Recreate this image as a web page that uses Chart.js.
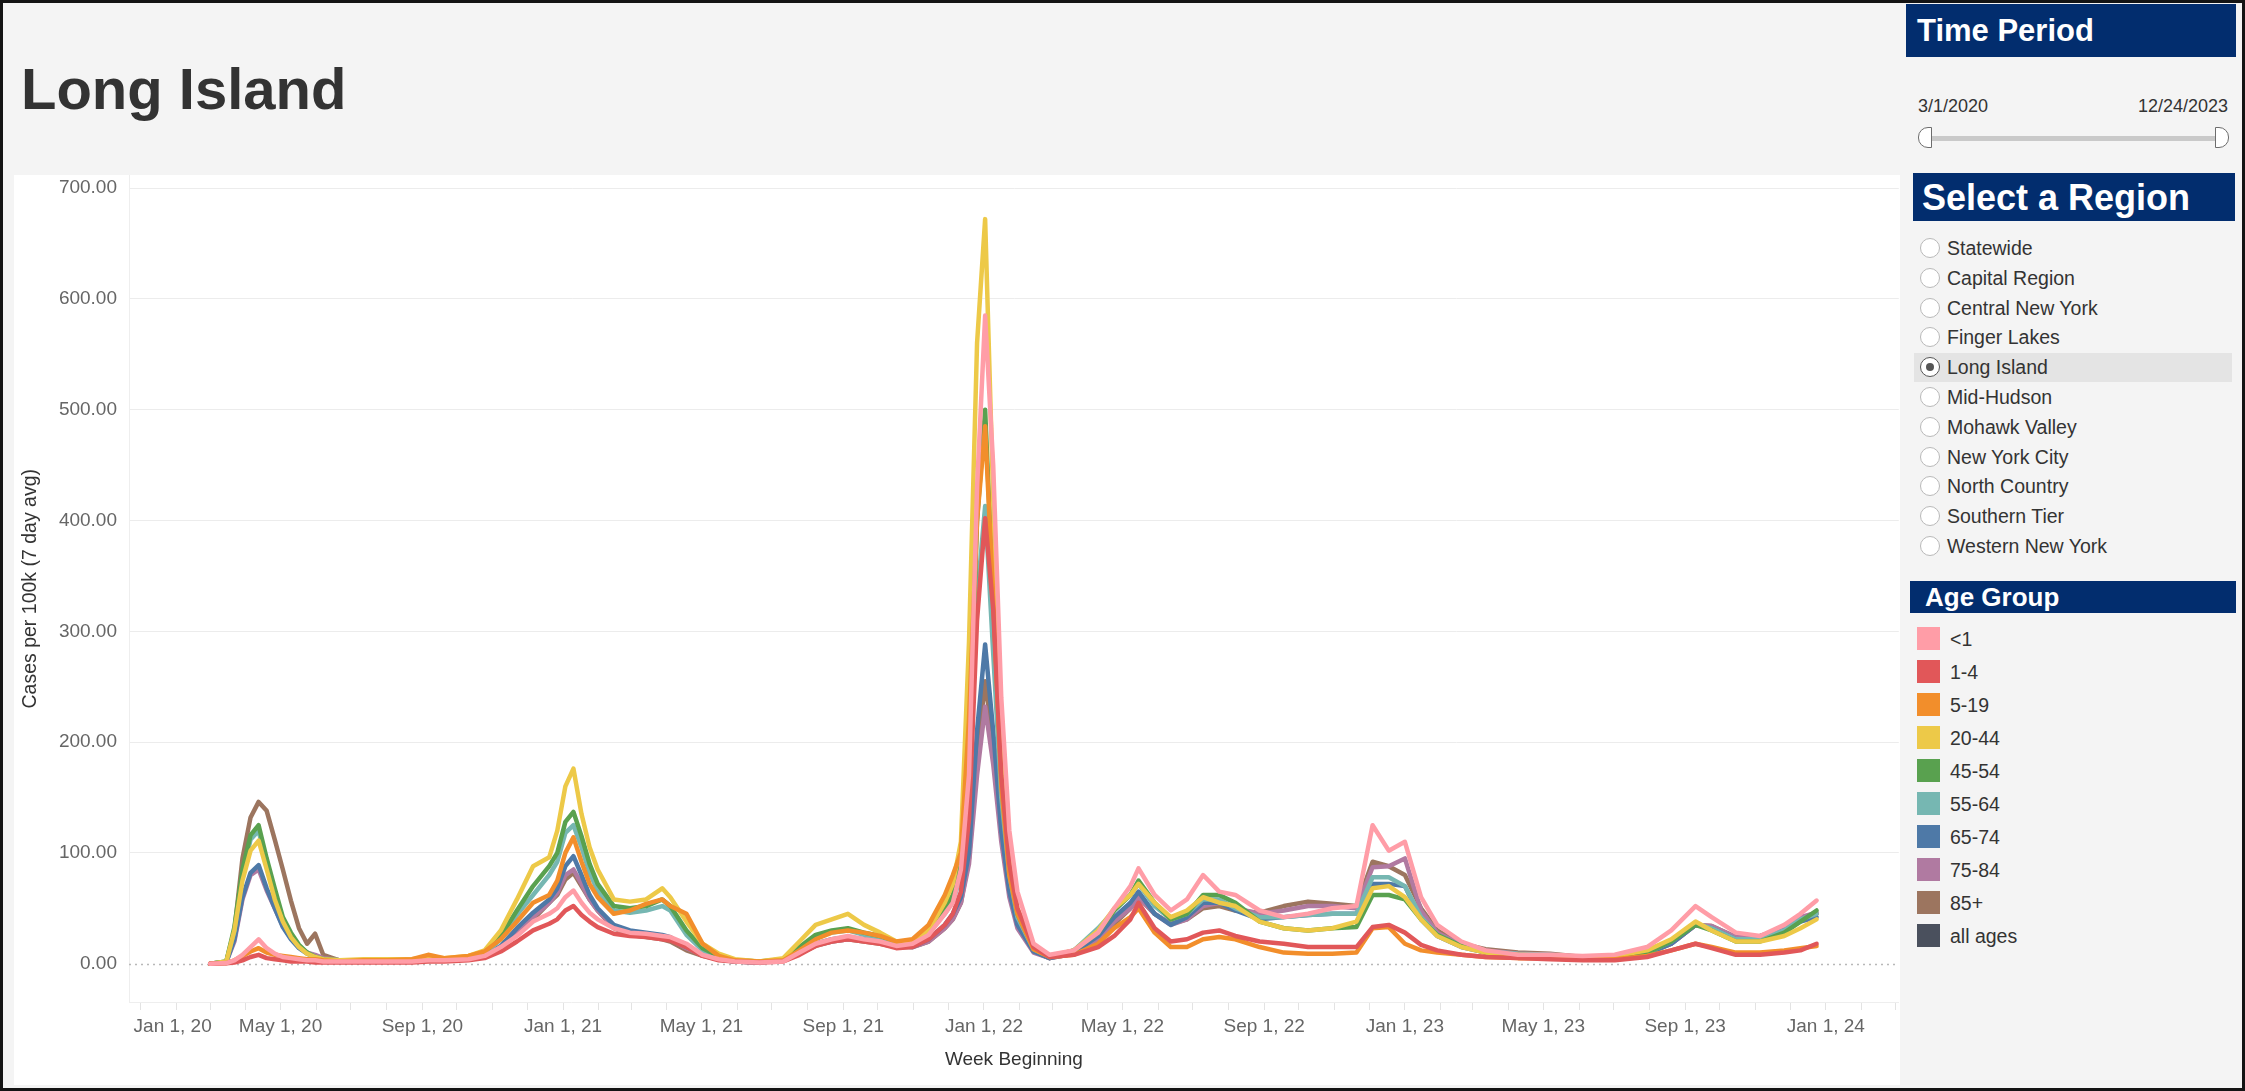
<!DOCTYPE html>
<html lang="en">

<head>
    <meta charset="UTF-8" />
    <title>Long Island - Cases per 100k by Age Group</title>
    <script src="https://cdn.jsdelivr.net/npm/chart.js"></script>
    <style>
        html, body { margin: 0; padding: 0; }
        body {
            position: relative;
            width: 2245px;
            height: 1091px;
            overflow: hidden;
            background: #f4f4f4;
            font-family: "Liberation Sans", Arial, sans-serif;
            color: #333;
        }
        #frame {
            position: absolute; left: 0; top: 0; width: 2245px; height: 1091px;
            box-sizing: border-box; border: 3px solid #141414; z-index: 10; pointer-events: none;
        }
        #title {
            position: absolute; left: 21px; top: 60px;
            font-size: 58px; font-weight: bold; line-height: 58px; color: #333;
        }
        #panel {
            position: absolute; left: 14px; top: 175px; width: 1886px; height: 910px; background: #fff;
        }
        .hdr {
            position: absolute; background: #022d6e; color: #fff; font-weight: bold;
            white-space: nowrap; box-sizing: border-box;
        }
        #hdrTime { left: 1906px; top: 4px; width: 330px; height: 53px; line-height: 53px; font-size: 31px; padding-left: 11px; }
        #hdrRegion { left: 1913px; top: 173px; width: 322px; height: 48px; line-height: 50px; font-size: 36px; padding-left: 9px; }
        #hdrAge { left: 1910px; top: 581px; width: 326px; height: 32px; line-height: 33px; font-size: 26px; padding-left: 15px; }
        .date { position: absolute; top: 96px; font-size: 18px; line-height: 20px; color: #333; }
        #track { position: absolute; left: 1926px; top: 136px; width: 294px; height: 5px; background: #c9c9c9; }
        .handle {
            position: absolute; top: 127px; width: 14px; height: 21px; background: #fff;
            border: 1.5px solid #6d6d6d; box-sizing: border-box;
        }
        #hL { left: 1918px; border-radius: 10px 0 0 10px; }
        #hR { left: 2215px; border-radius: 0 10px 10px 0; }
        .radio {
            position: absolute; left: 1914px; width: 318px; height: 29px;
            font-size: 19.5px; line-height: 29px; white-space: nowrap;
        }
        .radio.sel { background: #e4e4e4; }
        .radio .dot {
            position: absolute; left: 6px; top: 4px; width: 20px; height: 20px; box-sizing: border-box;
            border-radius: 50%; border: 1.5px solid #b9b9b9; background: #fff;
        }
        .radio.sel .dot { border-color: #555; }
        .radio.sel .dot::after {
            content: ""; position: absolute; left: 4.5px; top: 4.5px; width: 8px; height: 8px;
            border-radius: 50%; background: #555;
        }
        .radio .lbl { position: absolute; left: 33px; top: 0; }
        .leg { position: absolute; left: 1917px; height: 24px; font-size: 19.5px; line-height: 24px; white-space: nowrap; }
        .leg .sw { position: absolute; left: 0; top: 0; width: 23px; height: 23px; }
        .leg .lbl { position: absolute; left: 33px; top: 0; }
        #chartBox { position: absolute; left: 14px; top: 175px; width: 1886px; height: 910px; }
    </style>
</head>

<body>
    <div id="title">Long Island</div>
    <div id="panel"></div>

    <div id="hdrTime" class="hdr">Time Period</div>
    <div class="date" style="left:1918px">3/1/2020</div>
    <div class="date" style="left:2128px; width:100px; text-align:right">12/24/2023</div>
    <div id="track"></div>
    <div id="hL" class="handle"></div>
    <div id="hR" class="handle"></div>

    <div id="hdrRegion" class="hdr">Select a Region</div>
    <div id="regionList"></div>

    <div id="hdrAge" class="hdr">Age Group</div>
    <div id="legendList"></div>

    <div id="chartBox"><canvas id="caseChart" width="1886" height="910"></canvas></div>
    <div id="frame"></div>

    <script>
        // week beginning dates (sampled)
        const weekStarts = [
            '2020-03-01', '2020-03-15', '2020-03-22', '2020-03-29', '2020-04-05', '2020-04-12', '2020-04-19', '2020-04-26', '2020-05-03', '2020-05-10',
            '2020-05-17', '2020-05-24', '2020-05-31', '2020-06-07', '2020-06-21', '2020-07-12', '2020-08-02', '2020-08-23', '2020-09-06', '2020-09-20',
            '2020-10-11', '2020-10-25', '2020-11-08', '2020-11-22', '2020-12-06', '2020-12-20', '2020-12-27', '2021-01-03', '2021-01-10', '2021-01-17',
            '2021-01-24', '2021-01-31', '2021-02-14', '2021-02-28', '2021-03-14', '2021-03-28', '2021-04-04', '2021-04-18', '2021-05-02', '2021-05-16',
            '2021-05-30', '2021-06-20', '2021-07-11', '2021-07-25', '2021-08-08', '2021-08-22', '2021-09-05', '2021-09-19', '2021-10-03', '2021-10-17',
            '2021-10-31', '2021-11-14', '2021-11-28', '2021-12-05', '2021-12-12', '2021-12-19', '2021-12-26', '2022-01-02', '2022-01-09', '2022-01-16',
            '2022-01-23', '2022-01-30', '2022-02-13', '2022-02-27', '2022-03-20', '2022-04-10', '2022-04-24', '2022-05-08', '2022-05-15', '2022-05-29',
            '2022-06-12', '2022-06-26', '2022-07-10', '2022-07-24', '2022-08-07', '2022-08-28', '2022-09-18', '2022-10-09', '2022-10-30', '2022-11-20',
            '2022-12-04', '2022-12-18', '2023-01-01', '2023-01-15', '2023-01-29', '2023-02-19', '2023-03-12', '2023-04-09', '2023-05-07', '2023-06-04',
            '2023-07-02', '2023-07-30', '2023-08-20', '2023-09-10', '2023-09-24', '2023-10-15', '2023-11-05', '2023-11-26', '2023-12-10', '2023-12-24'
        ];

        const ageGroups = ['<1', '1-4', '5-19', '20-44', '45-54', '55-64', '65-74', '75-84', '85+', 'all ages'];
        const groupColors = ['#ff9da7', '#e15759', '#f28e2b', '#edc948', '#59a14f', '#76b7b2', '#4e79a7', '#b07aa1', '#9c755f', '#4a505d'];

        // cases per 100k (7 day avg)
        const under1 = [
            0, 0.5, 3, 8, 15, 22, 14, 9, 6, 5,
            4, 3, 3, 2, 2, 2, 2, 2, 3, 3,
            4, 7, 15, 25, 38, 45, 50, 60, 66, 55,
            46, 40, 32, 28, 27, 25, 24, 18, 8, 4,
            2, 1, 2, 10, 18, 22, 25, 22, 20, 16,
            18, 26, 45, 55, 85, 170, 430, 585, 450, 240,
            120, 65, 18, 8, 12, 28, 50, 70, 86, 62,
            48, 58, 80, 65, 62, 48, 42, 45, 50, 52,
            125, 102, 110, 60, 35, 20, 12, 8, 8, 7,
            8, 15, 30, 52, 42, 28, 25, 35, 45, 57
        ];
        const age1to4 = [
            0, 0.3, 1, 3, 6, 8, 5, 4, 3, 2,
            2, 2, 1, 1, 1, 1, 1, 1, 2, 2,
            3, 5, 11, 20, 30, 36, 40, 48, 52, 44,
            38, 33, 27, 25, 24, 22, 21, 15, 7, 3,
            2, 1, 2, 8, 16, 20, 22, 20, 18, 14,
            15, 22, 35, 45, 65, 130, 310, 402, 320, 170,
            90, 50, 15, 6, 8, 15, 25, 40, 55, 32,
            20, 22, 28, 30, 25, 20, 18, 15, 15, 15,
            33, 35, 28, 17, 12, 8, 6, 5, 4, 3,
            3, 6, 12, 18, 14, 8, 8, 10, 12, 18
        ];
        const age5to19 = [
            0, 0.5, 3, 7, 11, 14, 10, 8, 7, 6,
            5, 4, 4, 3, 2, 3, 3, 4, 8, 5,
            7, 11, 22, 38, 55, 62, 75, 100, 114, 92,
            72, 60, 45, 48, 54, 58, 52, 45, 18, 7,
            3, 2, 3, 12, 22, 28, 30, 28, 25, 20,
            22, 35, 62, 80, 100, 220, 400, 485, 330, 160,
            80, 45, 13, 6, 8, 18, 32, 42, 50, 28,
            15, 15, 22, 24, 22, 15, 10, 9, 9, 10,
            32, 33, 18, 12, 10, 8, 6, 5, 5, 4,
            4, 7, 12, 18, 15, 10, 10, 12, 14, 16
        ];
        const age20to44 = [
            0, 2, 30, 75, 102, 111, 85, 58, 38, 24,
            15, 9, 6, 4, 3, 4, 4, 4, 6, 5,
            7, 12, 30, 58, 88, 96, 120, 160, 176, 135,
            105, 85, 58, 56, 58, 68, 60, 38, 18, 9,
            4, 2, 5, 20, 35, 40, 45, 35, 28, 20,
            20, 30, 55, 72, 110, 290, 560, 672, 420, 200,
            100, 50, 15, 7, 12, 30, 50, 62, 72, 55,
            42, 48, 60, 55, 52, 38, 32, 30, 32, 38,
            68, 70, 60, 40, 25, 15, 10, 8, 7, 6,
            7, 12, 22, 38, 30, 20, 20, 25, 32, 40
        ];
        const age45to54 = [
            0, 2, 33, 85, 116, 125, 95, 68, 42, 28,
            17, 10, 6, 4, 3, 3, 3, 3, 4, 4,
            6, 10, 25, 48, 70, 88, 100, 128, 137, 115,
            90, 72, 52, 50, 52, 58, 52, 30, 14, 7,
            3, 2, 4, 15, 26, 30, 32, 28, 25, 20,
            20, 30, 50, 62, 90, 180, 400, 500, 330, 170,
            90, 45, 14, 6, 12, 28, 48, 62, 75, 55,
            40, 45, 62, 62, 55, 38, 32, 30, 32, 33,
            62, 62, 58, 40, 26, 16, 10, 8, 7, 6,
            6, 10, 20, 35, 30, 20, 20, 28, 38, 48
        ];
        const age55to64 = [
            0, 2, 30, 80, 112, 120, 90, 62, 40, 26,
            16, 10, 6, 4, 3, 3, 3, 3, 4, 4,
            5, 9, 22, 44, 62, 80, 92, 118, 125, 105,
            82, 66, 48, 46, 48, 52, 48, 26, 12, 6,
            3, 2, 3, 13, 24, 28, 30, 26, 23, 18,
            18, 28, 45, 56, 80, 150, 330, 413, 280, 150,
            80, 42, 13, 6, 12, 32, 48, 62, 72, 52,
            40, 45, 58, 58, 50, 42, 42, 44, 45, 45,
            78, 78, 70, 42, 26, 16, 11, 9, 8, 6,
            6, 10, 20, 36, 32, 22, 22, 30, 40, 45
        ];
        const age65to74 = [
            0, 1.5, 22, 60, 82, 89, 68, 50, 33, 22,
            14, 9, 6, 4, 2, 2, 2, 2, 3, 3,
            4, 7, 16, 32, 46, 58, 68, 88, 97, 80,
            62, 50, 35, 30, 28, 26, 24, 15, 8, 4,
            2, 1, 3, 10, 18, 22, 24, 22, 20, 16,
            15, 22, 35, 45, 60, 100, 210, 288, 210, 120,
            65, 35, 11, 5, 10, 25, 42, 55, 65, 45,
            35, 42, 55, 55, 48, 40, 42, 44, 45, 45,
            72, 72, 70, 40, 25, 15, 10, 8, 7, 5,
            5, 9, 18, 35, 32, 22, 22, 30, 38, 42
        ];
        const age75to84 = [
            0, 1.5, 20, 58, 80, 85, 66, 50, 34, 23,
            15, 10, 8, 5, 3, 2, 2, 2, 3, 3,
            4, 7, 15, 30, 42, 55, 64, 80, 85, 72,
            58, 48, 33, 28, 26, 24, 22, 14, 8, 4,
            2, 1, 3, 10, 17, 20, 22, 22, 20, 16,
            15, 20, 32, 40, 55, 90, 170, 232, 180, 110,
            60, 32, 10, 5, 9, 22, 38, 50, 60, 45,
            35, 40, 52, 55, 50, 45, 48, 52, 52, 50,
            87, 88, 95, 48, 28, 17, 12, 9, 8, 6,
            5, 9, 18, 35, 34, 24, 24, 32, 42, 46
        ];
        const age85plus = [
            0, 1.5, 30, 95, 132, 146, 138, 112, 85, 57,
            32, 18, 27, 8, 3, 2, 3, 2, 3, 3,
            5, 8, 14, 28, 40, 55, 62, 76, 82, 70,
            58, 48, 32, 26, 24, 22, 20, 12, 7, 4,
            2, 1, 3, 9, 16, 20, 22, 20, 18, 15,
            15, 20, 32, 40, 55, 95, 185, 255, 200, 120,
            65, 35, 11, 5, 9, 20, 36, 50, 60, 45,
            36, 40, 50, 52, 48, 46, 52, 56, 54, 52,
            92, 88, 80, 50, 30, 18, 13, 10, 9, 6,
            5, 9, 18, 35, 34, 24, 25, 32, 40, 45
        ];

        const yTicks = [0, 100, 200, 300, 400, 500, 600, 700];
        const monthNames = ['Jan', 'Feb', 'Mar', 'Apr', 'May', 'Jun', 'Jul', 'Aug', 'Sep', 'Oct', 'Nov', 'Dec'];
        const labelMonths = [0, 4, 8];

        const regions = ['Statewide', 'Capital Region', 'Central New York', 'Finger Lakes', 'Long Island', 'Mid-Hudson',
            'Mohawk Valley', 'New York City', 'North Country', 'Southern Tier', 'Western New York'];
        const selectedRegion = 'Long Island';

        // side panel
        const regionList = document.getElementById('regionList');
        regions.forEach(function (r, i) {
            const div = document.createElement('div');
            div.className = 'radio' + (r === selectedRegion ? ' sel' : '');
            div.style.top = (234 + i * 29.8) + 'px';
            div.innerHTML = '<span class="dot"></span><span class="lbl"></span>';
            div.querySelector('.lbl').textContent = r;
            regionList.appendChild(div);
        });

        const legendList = document.getElementById('legendList');
        ageGroups.forEach(function (g, i) {
            const div = document.createElement('div');
            div.className = 'leg';
            div.style.top = (627 + i * 33) + 'px';
            div.innerHTML = '<span class="sw"></span><span class="lbl"></span>';
            div.querySelector('.sw').style.background = groupColors[i];
            div.querySelector('.lbl').textContent = g;
            legendList.appendChild(div);
        });

        // dates -> days since Jan 1, 2020
        const DAY = 86400000;
        const BASE = Date.UTC(2020, 0, 1);
        function dayOf(s) {
            const p = s.split('-').map(Number);
            return (Date.UTC(p[0], p[1] - 1, p[2]) - BASE) / DAY;
        }
        const xDays = weekStarts.map(dayOf);

        // 'all ages' is listed in the legend but has no line in the view
        const seriesValues = [under1, age1to4, age5to19, age20to44, age45to54, age55to64, age65to74, age75to84, age85plus];

        const datasets = seriesValues.map(function (vals, i) {
            return {
                label: ageGroups[i],
                data: vals.map(function (v, j) { return { x: xDays[j], y: v }; }),
                borderColor: groupColors[i],
                backgroundColor: groupColors[i],
                borderWidth: 4.5,
                pointRadius: 0,
                tension: 0,
                borderJoinStyle: 'round',
                borderCapStyle: 'round'
            };
        });

        const zeroLine = {
            id: 'zeroLine',
            beforeDatasetsDraw(chart) {
                const { ctx, chartArea, scales } = chart;
                const y = Math.round(scales.y.getPixelForValue(0)) + 0.5;
                ctx.save();
                ctx.strokeStyle = '#b8b8b8';
                ctx.lineWidth = 1.5;
                ctx.setLineDash([2, 4]);
                ctx.beginPath();
                ctx.moveTo(chartArea.left, y);
                ctx.lineTo(chartArea.right, y);
                ctx.stroke();
                ctx.restore();
            }
        };

        Chart.defaults.font.family = '"Liberation Sans", Arial, sans-serif';

        const ctx = document.getElementById('caseChart').getContext('2d');
        const chart = new Chart(ctx, {
            type: 'line',
            data: { datasets: datasets },
            plugins: [zeroLine],
            options: {
                responsive: false,
                animation: false,
                devicePixelRatio: 1,
                layout: { padding: 0 },
                plugins: {
                    legend: { display: false },
                    tooltip: { enabled: false }
                },
                scales: {
                    x: {
                        type: 'linear',
                        min: -10.4,
                        max: 1524.3,
                        afterBuildTicks: function (axis) {
                            const ticks = [];
                            for (let y = 2020; y <= 2024; y++) {
                                for (let m = 0; m < 12; m++) {
                                    const d = (Date.UTC(y, m, 1) - BASE) / DAY;
                                    if (d >= axis.min && d <= axis.max) ticks.push({ value: d });
                                }
                            }
                            axis.ticks = ticks;
                        },
                        afterFit: function (axis) { axis.height = 83; },
                        ticks: {
                            autoSkip: false,
                            maxRotation: 0,
                            padding: 5,
                            color: '#666',
                            font: { size: 19 },
                            callback: function (value) {
                                const dt = new Date(BASE + value * DAY);
                                const m = dt.getUTCMonth();
                                if (labelMonths.indexOf(m) < 0) return '';
                                const lbl = monthNames[m] + ' 1, ' + String(dt.getUTCFullYear()).slice(2);
                                // first label is pushed right so it stays inside the plot
                                return value === 0 ? '            ' + lbl : lbl;
                            }
                        },
                        grid: {
                            drawOnChartArea: false,
                            drawTicks: true,
                            tickLength: 8,
                            tickColor: '#e3e3e3',
                            color: '#e3e3e3'
                        },
                        border: { display: true, color: '#eeeeee' },
                        title: {
                            display: true,
                            text: 'Week Beginning',
                            color: '#333',
                            font: { size: 19 },
                            padding: { top: 0, bottom: 14 }
                        }
                    },
                    y: {
                        min: -34.6,
                        max: 711.4,
                        afterBuildTicks: function (axis) {
                            axis.ticks = yTicks.map(function (v) { return { value: v }; });
                        },
                        afterFit: function (axis) { axis.width = 115; },
                        ticks: {
                            padding: 0,
                            color: '#666',
                            // tiny line height keeps the plot from being pushed down by label padding
                            font: { size: 19, lineHeight: 0.05 },
                            callback: function (v) { return Number(v).toFixed(2); }
                        },
                        grid: {
                            drawTicks: true,
                            tickLength: 12,
                            tickColor: 'rgba(0,0,0,0)',
                            color: function (c) { return c.tick && c.tick.value === 0 ? 'rgba(0,0,0,0)' : '#ececec'; }
                        },
                        border: { display: true, color: '#eeeeee' },
                        title: {
                            display: true,
                            text: 'Cases per 100k (7 day avg)',
                            color: '#333',
                            font: { size: 19.5 },
                            padding: { top: 5, bottom: 0 }
                        }
                    }
                }
            }
        });
    </script>
</body>

</html>
